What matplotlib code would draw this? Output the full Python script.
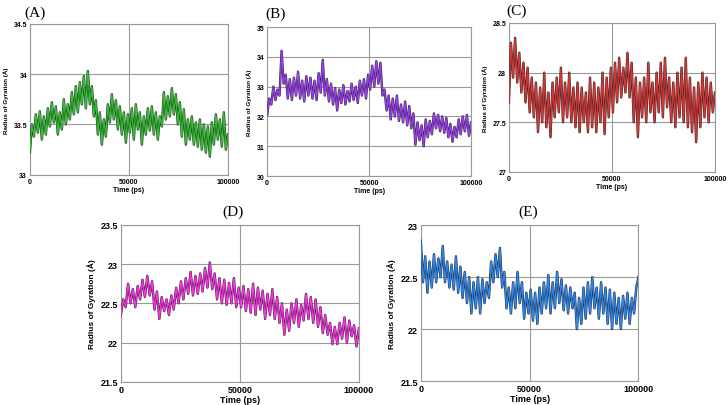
import numpy as np
import matplotlib
matplotlib.use("Agg")
import matplotlib.pyplot as plt

plt.rcParams['font.family'] = ['Liberation Sans', 'DejaVu Sans']

# Radius of gyration traces (100 samples over 0..100000 ps)
rg_a = [33.22, 33.50, 33.38, 33.60, 33.42, 33.63, 33.35, 33.58, 33.40, 33.66,
        33.48, 33.72, 33.52, 33.68, 33.40, 33.62, 33.45, 33.75, 33.50, 33.70,
        33.55, 33.82, 33.60, 33.88, 33.62, 33.92, 33.70, 33.98, 33.66, 34.03,
        33.70, 33.88, 33.58, 33.74, 33.40, 33.62, 33.30, 33.55, 33.38, 33.70,
        33.52, 33.80, 33.55, 33.74, 33.45, 33.68, 33.40, 33.62, 33.32, 33.60,
        33.42, 33.66, 33.35, 33.70, 33.45, 33.62, 33.30, 33.58, 33.40, 33.66,
        33.44, 33.68, 33.40, 33.62, 33.35, 33.58, 33.48, 33.82, 33.55, 33.78,
        33.58, 33.86, 33.60, 33.80, 33.50, 33.72, 33.38, 33.65, 33.30, 33.55,
        33.35, 33.58, 33.30, 33.52, 33.28, 33.55, 33.25, 33.50, 33.22, 33.48,
        33.18, 33.52, 33.30, 33.60, 33.35, 33.55, 33.28, 33.62, 33.25, 33.40]

rg_b = [32.05, 32.60, 32.40, 33.00, 32.55, 32.90, 32.70, 34.20, 33.10, 33.40,
        32.60, 33.25, 32.55, 33.30, 32.70, 33.50, 32.60, 33.20, 32.50, 33.35,
        32.70, 33.30, 32.60, 33.20, 32.55, 33.45, 32.80, 33.90, 32.70, 33.25,
        32.50, 33.10, 32.40, 32.95, 32.20, 32.90, 32.45, 33.05, 32.40, 32.85,
        32.50, 33.10, 32.55, 33.00, 32.45, 33.20, 32.70, 33.25, 32.60, 33.40,
        32.90, 33.70, 33.00, 33.85, 33.10, 33.80, 32.70, 32.90, 32.20, 32.70,
        31.90, 32.60, 32.00, 32.70, 31.85, 32.40, 31.80, 32.50, 31.70, 32.35,
        31.60, 32.10, 31.05, 31.80, 31.20, 31.70, 31.00, 31.90, 31.30, 31.85,
        31.40, 32.10, 31.60, 32.05, 31.50, 32.00, 31.45, 31.95, 31.30, 31.75,
        31.15, 31.65, 31.30, 31.90, 31.40, 32.00, 31.50, 32.05, 31.35, 31.80]

rg_c = [27.70, 28.30, 27.95, 28.35, 27.90, 28.20, 27.80, 28.10, 27.70, 28.05,
        27.60, 27.95, 27.55, 27.90, 27.40, 27.85, 27.50, 28.00, 27.45, 27.80,
        27.35, 27.90, 27.55, 27.95, 27.60, 28.05, 27.50, 27.90, 27.55, 28.00,
        27.50, 27.85, 27.45, 27.90, 27.40, 27.85, 27.50, 27.80, 27.40, 27.95,
        27.45, 27.90, 27.40, 27.85, 27.50, 28.00, 27.38, 27.95, 27.55, 28.05,
        27.60, 28.10, 27.70, 28.15, 27.75, 28.05, 27.80, 28.20, 27.75, 28.10,
        27.50, 27.95, 27.35, 27.90, 27.55, 27.95, 27.50, 28.10, 27.60, 27.90,
        27.50, 28.00, 27.60, 28.10, 27.55, 28.15, 27.65, 27.95, 27.50, 27.90,
        27.45, 28.00, 27.55, 28.05, 27.50, 28.15, 27.45, 27.95, 27.40, 27.85,
        27.30, 27.90, 27.45, 28.00, 27.55, 27.95, 27.50, 27.90, 27.60, 27.80]

rg_d = [22.35, 22.55, 22.45, 22.75, 22.50, 22.68, 22.45, 22.72, 22.55, 22.80,
        22.58, 22.85, 22.60, 22.78, 22.42, 22.65, 22.30, 22.58, 22.40, 22.55,
        22.35, 22.60, 22.42, 22.70, 22.50, 22.78, 22.55, 22.82, 22.62, 22.90,
        22.60, 22.85, 22.62, 22.88, 22.65, 22.95, 22.70, 23.02, 22.68, 22.88,
        22.55, 22.82, 22.50, 22.80, 22.48, 22.76, 22.50, 22.82, 22.45, 22.70,
        22.45, 22.72, 22.40, 22.68, 22.38, 22.75, 22.35, 22.70, 22.42, 22.66,
        22.30, 22.62, 22.35, 22.68, 22.30, 22.58, 22.25, 22.50, 22.10, 22.42,
        22.15, 22.50, 22.25, 22.55, 22.20, 22.48, 22.28, 22.62, 22.30, 22.58,
        22.25, 22.55, 22.20, 22.45, 22.12, 22.35, 22.10, 22.25, 21.98, 22.20,
        21.98, 22.25, 22.05, 22.32, 22.00, 22.28, 22.08, 22.22, 21.95, 22.18]

rg_e = [22.85, 22.45, 22.70, 22.35, 22.65, 22.40, 22.72, 22.45, 22.68, 22.50,
        22.80, 22.45, 22.65, 22.40, 22.62, 22.38, 22.70, 22.35, 22.60, 22.30,
        22.55, 22.25, 22.50, 22.15, 22.45, 22.20, 22.50, 22.15, 22.48, 22.25,
        22.45, 22.30, 22.65, 22.45, 22.72, 22.50, 22.78, 22.40, 22.55, 22.20,
        22.40, 22.15, 22.45, 22.20, 22.55, 22.25, 22.45, 22.10, 22.35, 22.15,
        22.38, 22.08, 22.35, 22.05, 22.40, 22.15, 22.45, 22.20, 22.52, 22.15,
        22.45, 22.20, 22.55, 22.25, 22.48, 22.18, 22.42, 22.15, 22.40, 22.20,
        22.35, 22.00, 22.30, 22.05, 22.40, 22.10, 22.45, 22.15, 22.50, 22.20,
        22.40, 22.10, 22.45, 22.15, 22.40, 22.05, 22.38, 22.00, 22.35, 22.05,
        22.30, 22.00, 22.32, 22.10, 22.35, 22.05, 22.30, 22.15, 22.40, 22.50]

time_ps = np.linspace(0, 100000, len(rg_a))

panel_labels = ["(A)", "(B)", "(C)", "(D)", "(E)"]
y_limits = [(33, 34.5), (30, 35), (27, 28.5), (21.5, 23.5), (21.5, 23)]
y_ticks = [[33, 33.5, 34, 34.5], [30, 31, 32, 33, 34, 35], [27, 27.5, 28, 28.5],
           [21.5, 22, 22.5, 23, 23.5], [21.5, 22, 22.5, 23]]
tick_text = [["33", "33.5", "34", "34.5"], ["30", "31", "32", "33", "34", "35"],
             ["27", "27.5", "28", "28.5"], ["21.5", "22", "22.5", "23", "23.5"],
             ["21.5", "22", "22.5", "23"]]
colors = ["#2fbf2f", "#9a3cf0", "#d83434", "#ff2ee8", "#2a86f0"]
series = [rg_a, rg_b, rg_c, rg_d, rg_e]

# axes boxes in figure fraction: left, bottom, width, height
boxes = [[0.041, 0.567, 0.272, 0.372],
         [0.367, 0.564, 0.280, 0.367],
         [0.699, 0.574, 0.283, 0.367],
         [0.166, 0.057, 0.327, 0.387],
         [0.578, 0.059, 0.299, 0.384]]
label_pos = [(0.048, 0.968), (0.378, 0.965), (0.709, 0.973), (0.320, 0.478), (0.725, 0.478)]
small = [True, True, True, False, False]

fig = plt.figure(figsize=(7.28, 4.06), dpi=100)

for i in range(5):
    ax = fig.add_axes(boxes[i])
    fs = 5 if small[i] else 6.5
    ax.plot(time_ps, series[i], color="#2a2a2a", lw=1.7, zorder=3)
    ax.plot(time_ps, series[i], color=colors[i], lw=1.0, zorder=4)
    ax.set_xlim(0, 100000)
    ax.set_ylim(*y_limits[i])
    ax.set_xticks([0, 50000, 100000])
    ax.set_xticklabels(["0", "50000", "100000"], fontsize=fs, fontweight="bold")
    ax.set_yticks(y_ticks[i])
    ax.set_yticklabels(tick_text[i], fontsize=fs, fontweight="bold")
    ax.tick_params(length=0, pad=2)
    ax.grid(True, color="#9a9a9a", lw=0.8)
    ax.set_axisbelow(True)
    for s in ax.spines.values():
        s.set_color("#9a9a9a")
        s.set_linewidth(0.8)
    ax.set_xlabel("Time (ps)", fontsize=fs, fontweight="bold", labelpad=1)
    ax.set_ylabel("Radius of Gyration (Å)", fontsize=fs - 0.5, fontweight="bold", labelpad=3)
    fig.text(label_pos[i][0], label_pos[i][1], panel_labels[i], fontsize=11,
             family=["Liberation Serif", "DejaVu Serif"], ha="center", va="center")

fig.savefig("out.png", dpi=100)
